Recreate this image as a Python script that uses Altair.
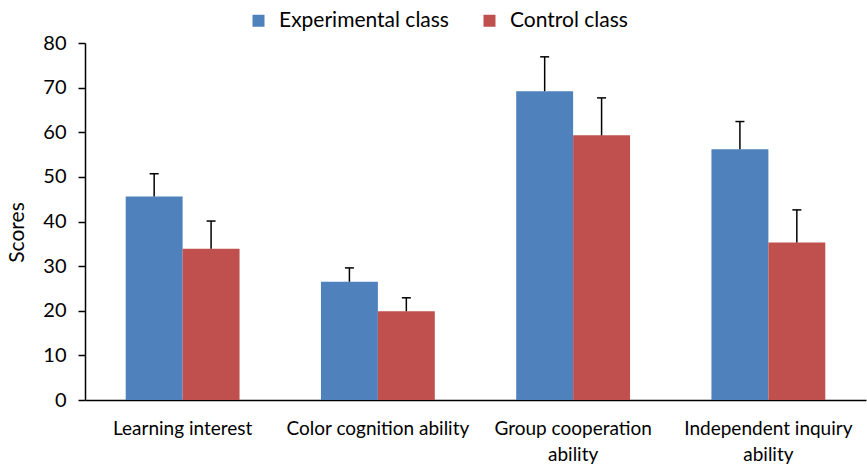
import altair as alt
import pandas as pd

categories = ["Learning interest", "Color cognition ability",
              "Group cooperation ability", "Independent inquiry ability"]
groups = ["Experimental class", "Control class"]
exp_means = [45.6, 26.5, 69.2, 56.2]
exp_errors = [5.1, 3.1, 7.7, 6.2]
ctl_means = [33.9, 19.9, 59.3, 35.3]
ctl_errors = [6.2, 3.0, 8.4, 7.3]
colors = ["#4F81BD", "#C0504D"]
y_ticks = list(range(0, 81, 10))

rows = []
for g, means, errs in [(groups[0], exp_means, exp_errors), (groups[1], ctl_means, ctl_errors)]:
    for c, m, e in zip(categories, means, errs):
        rows.append({"category": c, "group": g, "mean": m, "upper": m + e})
df = pd.DataFrame(rows)

FONT = "Lato, Liberation Sans, sans-serif"

label_expr = ("datum.label == 'Group cooperation ability' ? ['Group cooperation', 'ability'] : "
              "datum.label == 'Independent inquiry ability' ? ['Independent inquiry', 'ability'] : datum.label")

x_enc = alt.X("category:N", sort=categories,
              scale=alt.Scale(paddingInner=0, paddingOuter=0),
              axis=alt.Axis(title=None, labelAngle=0, ticks=False, domainColor="black",
                            domainWidth=1.5, labelFontSize=19, labelColor="black",
                            labelPadding=19, labelLineHeight=26, labelLimit=300,
                            labelExpr=label_expr))
xo_enc = alt.XOffset("group:N", sort=groups,
                     scale=alt.Scale(domain=groups, paddingInner=0, paddingOuter=0.715))
y_scale = alt.Scale(domain=[0, 80], nice=False)

bars = alt.Chart(df).mark_bar(strokeWidth=0).encode(
    x=x_enc,
    xOffset=xo_enc,
    y=alt.Y("mean:Q", scale=y_scale,
            axis=alt.Axis(title="Scores", values=y_ticks, grid=False, domainColor="black",
                          domainWidth=1.5, tickColor="black", tickWidth=1.5, tickSize=7,
                          labelPadding=12, labelFontSize=20, labelColor="black",
                          titleFontSize=21, titleFontWeight="normal", titleColor="black",
                          titleX=-68, titleY=189, titleAngle=-90, titleAlign="center",
                          titleBaseline="middle")),
    color=alt.Color("group:N", sort=groups,
                    scale=alt.Scale(domain=groups, range=colors),
                    legend=alt.Legend(title=None, orient="none", direction="horizontal",
                                      legendX=163, legendY=-33, symbolType="square",
                                      symbolSize=144, symbolStrokeWidth=0, labelFontSize=21,
                                      labelColor="black", labelOffset=10, columnPadding=30,
                                      labelLimit=400, symbolOpacity=1)),
)

rules = alt.Chart(df).mark_rule(color="black", strokeWidth=1.5).encode(
    x=alt.X("category:N", sort=categories),
    xOffset=alt.XOffset("group:N", sort=groups),
    y=alt.Y("mean:Q"),
    y2="upper:Q",
)

caps = alt.Chart(df).mark_tick(color="black", thickness=1.5, size=9, opacity=1).encode(
    x=alt.X("category:N", sort=categories),
    xOffset=alt.XOffset("group:N", sort=groups),
    y=alt.Y("upper:Q"),
)

chart = alt.layer(bars, rules, caps).properties(
    width=781, height=357,
    autosize=alt.AutoSizeParams(type="none"),
    padding={"left": 85, "top": 43, "right": 1, "bottom": 66},
).configure(font=FONT).configure_view(stroke=None)

chart.save("out.html", embed_options={"renderer": "svg", "actions": False})
